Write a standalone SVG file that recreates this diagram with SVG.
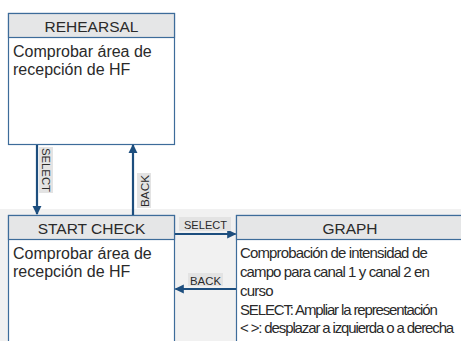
<svg xmlns="http://www.w3.org/2000/svg" width="461" height="341" viewBox="0 0 461 341">
<defs>
<style>
.box{fill:#ffffff;stroke:#3d6c9a;stroke-width:1.2}
.head{fill:#e5e6e7;stroke:#3d6c9a;stroke-width:1.2}
.ht{font-family:"Liberation Sans",Arial,sans-serif;font-size:15.5px;fill:#2a2a2a;text-anchor:middle}
.bt{font-family:"Liberation Sans",Arial,sans-serif;font-size:16px;fill:#2a2a2a}
.gt{font-family:"Liberation Sans",Arial,sans-serif;font-size:15px;fill:#2a2a2a}
.conn{stroke:#1d4e7e;stroke-width:2.2;fill:none}
.lbg{fill:#e3e3e3}
.lt{font-family:"Liberation Sans",Arial,sans-serif;font-size:11.5px;fill:#2a2a2a}
</style>
<marker id="ah" viewBox="0 0 10 10" refX="9" refY="5" markerWidth="4.2" markerHeight="4.2" orient="auto" markerUnits="strokeWidth">
<path d="M0,0 L10,5 L0,10 Z" fill="#1d4e7e"/>
</marker>
</defs>
<rect x="0" y="0" width="461" height="341" fill="#ffffff"/>
<rect x="0" y="209" width="461" height="132" fill="#f1f1f1"/>

<g id="rehearsal">
<rect class="box" x="8.5" y="13.5" width="166" height="131"/>
<rect class="head" x="8.5" y="13.5" width="166" height="24"/>
<text class="ht" x="91.5" y="31.5">REHEARSAL</text>
<text class="bt" x="13" y="57">Comprobar área de</text>
<text class="bt" x="13" y="75">recepción de HF</text>
</g>

<g id="start-check">
<rect class="box" x="8.5" y="215.5" width="166" height="140"/>
<rect class="head" x="8.5" y="215.5" width="166" height="24"/>
<text class="ht" x="91.5" y="233.5">START CHECK</text>
<text class="bt" x="13" y="259">Comprobar área de</text>
<text class="bt" x="13" y="277">recepción de HF</text>
</g>

<g id="graph">
<rect class="box" x="236.5" y="215.5" width="230" height="140"/>
<rect class="head" x="236.5" y="215.5" width="230" height="24"/>
<text class="ht" x="350" y="233.5">GRAPH</text>
<text class="gt" x="240" y="258" letter-spacing="-0.86">Comprobación de intensidad de</text>
<text class="gt" x="240" y="277" letter-spacing="-0.9">campo para canal 1 y canal 2 en</text>
<text class="gt" x="240" y="295.5" letter-spacing="-0.75">curso</text>
<text class="gt" x="240" y="314.5" letter-spacing="-1.14">SELECT: Ampliar la representación</text>
<text class="gt" x="240" y="333" letter-spacing="-1.13">&lt; &gt;: desplazar a izquierda o a derecha</text>
</g>

<g id="connectors">
<line class="conn" x1="37" y1="145" x2="37" y2="214" marker-end="url(#ah)"/>
<line class="conn" x1="133" y1="215" x2="133" y2="145" marker-end="url(#ah)"/>
<line class="conn" x1="175" y1="234" x2="235.5" y2="234" marker-end="url(#ah)"/>
<line class="conn" x1="236" y1="289" x2="175.5" y2="289" marker-end="url(#ah)"/>

<rect class="lbg" x="39" y="147" width="14" height="46"/>
<text class="lt" transform="translate(41.5,148) rotate(90)" textLength="44" lengthAdjust="spacingAndGlyphs">SELECT</text>
<rect class="lbg" x="137" y="173" width="14" height="35"/>
<text class="lt" transform="translate(148.5,207) rotate(-90)" textLength="32" lengthAdjust="spacingAndGlyphs">BACK</text>
<rect class="lbg" x="179" y="217" width="52" height="14"/>
<text class="lt" x="184" y="229" textLength="43" lengthAdjust="spacingAndGlyphs">SELECT</text>
<rect class="lbg" x="188" y="273" width="35" height="13"/>
<text class="lt" x="190" y="284.5" textLength="31" lengthAdjust="spacingAndGlyphs">BACK</text>
</g>
</svg>
